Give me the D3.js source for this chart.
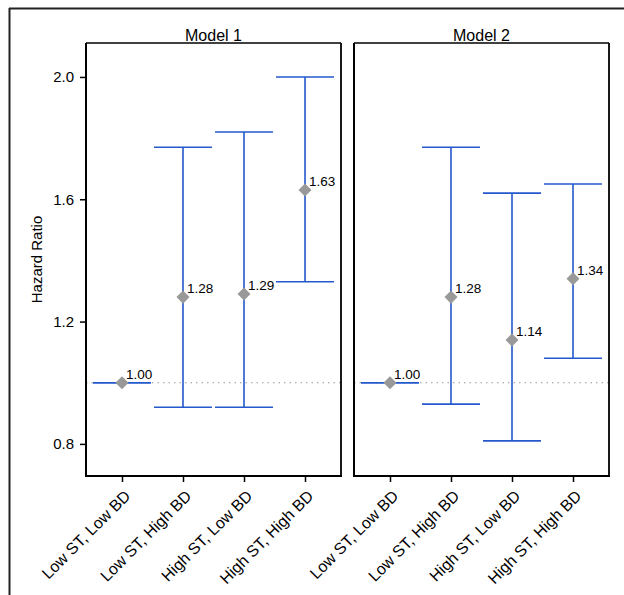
<!DOCTYPE html>
<meta charset="utf-8">
<style>
body { margin: 0; background: #fff; }
text { font-family: "Liberation Sans", Arial, sans-serif; fill: #000; }
</style>
<body>
<div id="chart"></div>
</body>
<script src="https://d3js.org/d3.v7.min.js"></script>
<script>
var categories = ["Low ST, Low BD", "Low ST, High BD", "High ST, Low BD", "High ST, High BD"];
var models = ["Model 1", "Model 2"];
var hr1 = [1.00, 1.28, 1.29, 1.63];
var lo1 = [1.00, 0.92, 0.92, 1.33];
var hi1 = [1.00, 1.77, 1.82, 2.00];
var hr2 = [1.00, 1.28, 1.14, 1.34];
var lo2 = [1.00, 0.93, 0.81, 1.08];
var hi2 = [1.00, 1.77, 1.62, 1.65];
var yTicks = [0.8, 1.2, 1.6, 2.0];

var series = [
	{ name: models[0], hr: hr1, lo: lo1, hi: hi1 },
	{ name: models[1], hr: hr2, lo: lo2, hi: hi2 }
];

var width = 624, height = 595;
var plotTop = 43, plotBottom = 476;
var panels = [[86, 341], [354, 609]];
var blue = "#2458cc";

var svg = d3.select("#chart").append("svg")
	.attr("width", width)
	.attr("height", height);

// figure frame (top and left only visible)
svg.append("line").attr("x1", 9).attr("x2", width).attr("y1", 8.5).attr("y2", 8.5)
	.attr("stroke", "#222").attr("stroke-width", 2);
svg.append("line").attr("x1", 9.5).attr("x2", 9.5).attr("y1", 8).attr("y2", height)
	.attr("stroke", "#222").attr("stroke-width", 2);

var y = d3.scaleLinear().domain([0.695, 2.111]).range([plotBottom, plotTop]);

series.forEach(function(s, k) {
	var x = d3.scalePoint().domain(categories).range(panels[k]).padding(0.59);
	var g = svg.append("g");
	var x0 = panels[k][0], x1 = panels[k][1];

	// reference line at 1.0
	g.append("line")
		.attr("x1", x0).attr("x2", x1)
		.attr("y1", y(1)).attr("y2", y(1))
		.attr("stroke", "#999").attr("stroke-width", 1.2)
		.attr("stroke-dasharray", "1.5,4");

	var half = 29;
	var d = categories.map(function(c, i) { return { c: c, hr: s.hr[i], lo: s.lo[i], hi: s.hi[i] }; });

	var e = g.selectAll(".err").data(d).enter().append("g");
	e.append("line")
		.attr("x1", function(v) { return x(v.c); }).attr("x2", function(v) { return x(v.c); })
		.attr("y1", function(v) { return y(v.lo); }).attr("y2", function(v) { return y(v.hi); })
		.attr("stroke", blue).attr("stroke-width", 1.6);
	e.append("line")
		.attr("x1", function(v) { return x(v.c) - half; }).attr("x2", function(v) { return x(v.c) + half; })
		.attr("y1", function(v) { return y(v.lo); }).attr("y2", function(v) { return y(v.lo); })
		.attr("stroke", blue).attr("stroke-width", 1.6);
	e.append("line")
		.attr("x1", function(v) { return x(v.c) - half; }).attr("x2", function(v) { return x(v.c) + half; })
		.attr("y1", function(v) { return y(v.hi); }).attr("y2", function(v) { return y(v.hi); })
		.attr("stroke", blue).attr("stroke-width", 1.6);

	e.append("path")
		.attr("d", d3.symbol().type(d3.symbolSquare).size(85))
		.attr("transform", function(v) { return "translate(" + x(v.c) + "," + y(v.hr) + ") rotate(45)"; })
		.attr("fill", "#999");

	e.append("text")
		.attr("x", function(v) { return x(v.c) + 4; })
		.attr("y", function(v) { return y(v.hr) - 4; })
		.attr("font-size", 13.5)
		.text(function(v) { return v.hr.toFixed(2); });

	// panel frame
	g.append("line").attr("x1", x0).attr("x2", x1).attr("y1", plotTop).attr("y2", plotTop)
		.attr("stroke", "#000").attr("stroke-width", 1.3);
	g.append("line").attr("x1", x1).attr("x2", x1).attr("y1", plotTop).attr("y2", plotBottom)
		.attr("stroke", "#000").attr("stroke-width", 1.8);
	g.append("line").attr("x1", x0).attr("x2", x0).attr("y1", plotTop).attr("y2", plotBottom + 1)
		.attr("stroke", "#000").attr("stroke-width", 2);
	g.append("line").attr("x1", x0 - 1).attr("x2", x1 + 1).attr("y1", plotBottom).attr("y2", plotBottom)
		.attr("stroke", "#000").attr("stroke-width", 2);

	// x axis
	var xa = g.append("g").attr("transform", "translate(0," + (plotBottom + 1) + ")")
		.call(d3.axisBottom(x).tickSize(5).tickPadding(4));
	xa.select(".domain").remove();
	xa.selectAll(".tick line").attr("stroke", "#000").attr("stroke-width", 1.5);
	xa.selectAll(".tick text")
		.attr("font-size", 16)
		.attr("font-family", "Liberation Sans, Arial, sans-serif")
		.attr("fill", "#000")
		.attr("text-anchor", "end")
		.attr("y", 0)
		.attr("dy", "0.35em")
		.attr("transform", "translate(5,16) rotate(-45)");

	// title
	svg.append("text")
		.attr("x", (x0 + x1) / 2).attr("y", 41)
		.attr("text-anchor", "middle")
		.attr("font-size", 16)
		.text(s.name);

	if (k === 0) {
		var ya = g.append("g").attr("transform", "translate(" + (x0 - 1) + ",0)")
			.call(d3.axisLeft(y).tickValues(yTicks).tickFormat(d3.format(".1f")).tickSize(5).tickPadding(6));
		ya.select(".domain").remove();
		ya.selectAll(".tick line").attr("stroke", "#000").attr("stroke-width", 1.5);
		ya.selectAll(".tick text")
			.attr("font-size", 15)
			.attr("font-family", "Liberation Sans, Arial, sans-serif")
			.attr("fill", "#000");
	}
});

svg.append("text")
	.attr("transform", "translate(42," + ((plotTop + plotBottom) / 2) + ") rotate(-90)")
	.attr("text-anchor", "middle")
	.attr("font-size", 15)
	.text("Hazard Ratio");
</script>
